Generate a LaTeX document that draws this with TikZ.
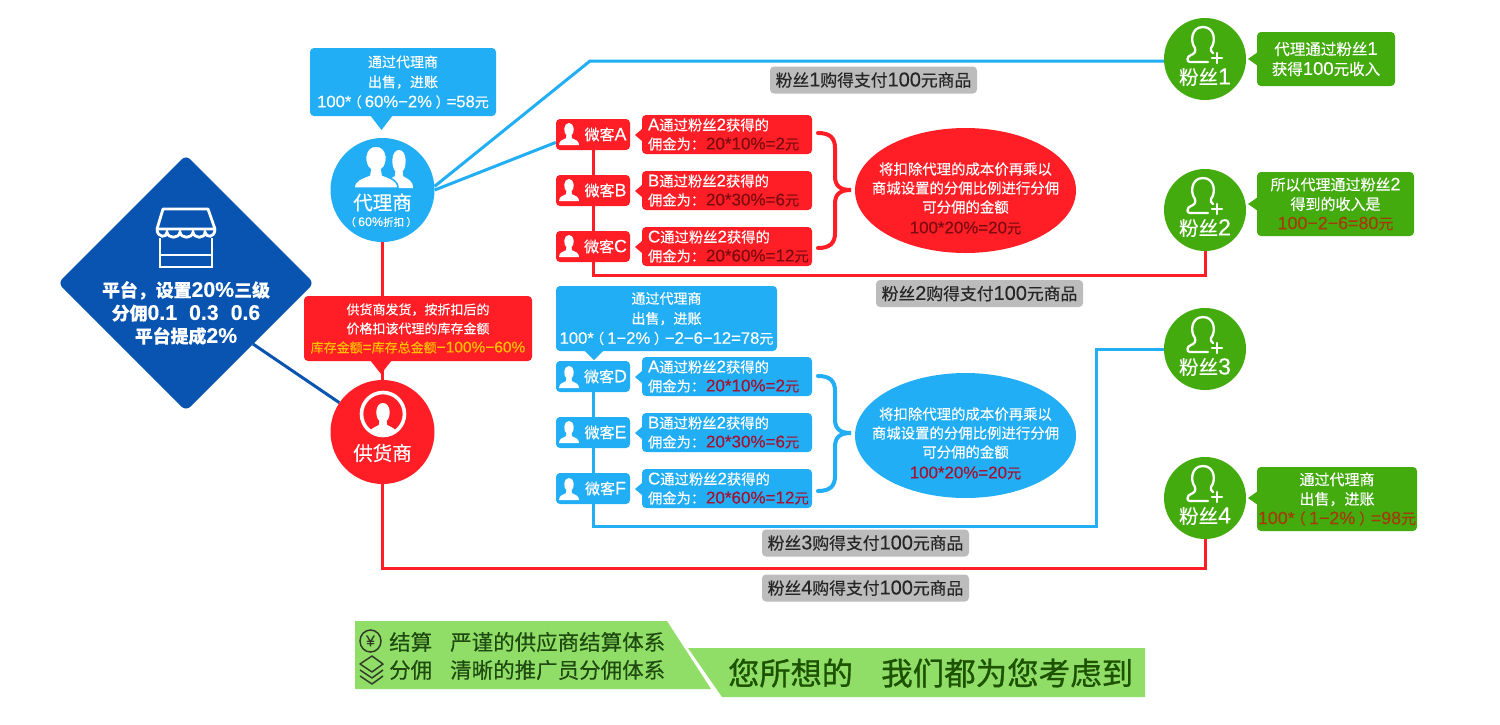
\documentclass[tikz,border=0pt]{standalone}
\usepackage{fontspec}
\setmainfont{Liberation Sans}[Scale=1.19,FakeBold=0.25]
\newfontfamily\cjkf{Noto Sans CJK SC}[FakeBold=0.25]
\newfontfamily\cjkheavy{Noto Sans CJK SC}[FakeBold=0.9]
\XeTeXinterchartokenstate=1
\newXeTeXintercharclass\cjkclass
\count255="4E00
\loop\ifnum\count255<"9FFF
  \XeTeXcharclass\count255=\cjkclass
  \advance\count255 by 1
\repeat
\XeTeXcharclass"FF08=\cjkclass
\XeTeXcharclass"FF09=\cjkclass
\XeTeXcharclass"FF0C=\cjkclass
\XeTeXcharclass"FF1A=\cjkclass
\XeTeXinterchartoks 0 \cjkclass = {\cjkf}
\XeTeXinterchartoks 4095 \cjkclass = {\cjkf}
\XeTeXinterchartoks \cjkclass 0 = {\rmfamily}
\XeTeXinterchartoks 4095 0 = {\rmfamily}
\usetikzlibrary{shapes.geometric}
\pgfdeclarelayer{bg}
\pgfsetlayers{bg,main}
\definecolor{cred}{HTML}{FF1E26}
\definecolor{cblue}{HTML}{22AEF5}
\definecolor{cgreen}{HTML}{43AB0E}
\definecolor{cnavy}{HTML}{0854B0}
\definecolor{cgray}{HTML}{BDBCBD}
\definecolor{cband}{HTML}{90DE68}
\definecolor{dkred}{HTML}{7A0B10}
\definecolor{dkblue}{HTML}{A31230}
\definecolor{dkgreen}{HTML}{A53A0A}
\definecolor{cyel}{HTML}{FFC000}
\definecolor{cbandtxt}{HTML}{1F4A10}
\definecolor{cbandtxtb}{HTML}{1C5200}
\newcommand{\fs}[2]{\fontsize{#1}{#2}\selectfont}
\newcommand{\hv}{\XeTeXinterchartokenstate=0\relax\cjkheavy}
\newcommand{\lp}{\hspace{-.22em}（\hspace{.22em}}
\newcommand{\rp}{\hspace{.22em}）\hspace{-.22em}}
\newcommand{\comm}[3]{#1通过粉丝2获得的\\\makebox[58pt][l]{佣金为：}\textcolor{#3}{#2}}
\tikzset{
  x=1pt,y=-1pt,inner sep=0pt,
  rbox/.style={rounded corners=4pt,text=white,align=center,font=\fs{14}{20}},
  bub/.style={rbox,fill=#1,minimum width=0pt},
  wk/.style={rbox,fill=#1,minimum width=74pt,minimum height=31pt,font=\fs{15}{18}},
  commbox/.style={rbox,fill=#1,minimum width=170pt,minimum height=39pt,text width=158pt,align=left,font=\fs{14.3}{19}},
  oval/.style={ellipse,fill=#1,minimum width=221pt,minimum height=125pt,text=white,align=center},
  disc/.style={circle,fill=#1,minimum size=104pt},
  fanc/.style={circle,fill=cgreen,minimum size=82pt},
  tag/.style={rounded corners=4pt,fill=cgray,text=black!85,minimum width=207pt,minimum height=27pt,font=\fs{16.8}{20}},
  ltxt/.style={text=white,font=\fs{19.5}{22}},
  fline/.style={line width=3pt,draw=#1,line join=miter},
  tip/.style={fill=#1},
  bracecurve/.style={line width=4pt,draw=#1,line cap=round},
  bandt/.style={text=cbandtxt,font=\fs{21.5}{24},anchor=west},
  iconline/.style={draw=white,line width=2.3pt,line join=round,line cap=round},
}
\newcommand{\sil}[6][none]{\begin{scope}[shift={(#2,#3)},xscale=#4,yscale=#5]
 \path[fill=#6,draw=#1,line width=1.5pt] (-1,1) .. controls (-1,0.6) and (-0.6,0.52) .. (-0.3,0.38) -- (-0.26,0.12)
  .. controls (-0.58,-0.1) and (-0.58,-1) .. (0,-1) .. controls (0.58,-1) and (0.58,-0.1) .. (0.26,0.12)
  -- (0.3,0.38) .. controls (0.6,0.52) and (1,0.6) .. (1,1) -- cycle;
\end{scope}}
\newcommand{\fanicon}[2]{\begin{scope}[shift={(#1,#2)}]
 \draw[iconline] (3,3) -- (-15,3) .. controls (-19,3) and (-18,-3) .. (-14,-4) .. controls (-11,-5) and (-9,-7) .. (-10,-11)
  .. controls (-15,-17) and (-14,-32) .. (-2,-32) .. controls (10,-32) and (11,-17) .. (6,-11) .. controls (5.5,-9) and (6,-7) .. (8,-6);
 \draw[iconline] (7,-1) -- (17,-1) (12,-6) -- (12,4);
\end{scope}}
\newcommand{\bracepath}[2]{\draw[bracecurve=#2] (818,#1-57) .. controls (830,#1-57) and (835,#1-52) .. (835,#1-42) -- (835,#1-14)
  .. controls (835,#1-4) and (840,#1) .. (851,#1) .. controls (840,#1) and (835,#1+4) .. (835,#1+14) -- (835,#1+43)
  .. controls (835,#1+53) and (830,#1+58) .. (818,#1+58);}
\newcommand{\ptr}[2]{\fill[tip=#2] (635,#1) -- (642,#1-6) -- (642,#1+6) -- cycle;}
\begin{document}
\begin{tikzpicture}
\useasboundingbox (0,0) rectangle (1500,724);
\begin{pgfonlayer}{bg}
\fill[white] (0,0) rectangle (1500,724);
\end{pgfonlayer}

% platform diamond
\fill[cnavy,rounded corners=6pt] (186,155) -- (314,283) -- (186,411) -- (58,283) -- cycle;
\coordinate (plat) at (253,344);
\draw[white,line width=2.8pt,line join=round] (163,209) -- (208,209) -- (215,229) -- (157,229) -- cycle;
\draw[white,line width=2.8pt] (157,230) .. controls (158,238) and (167,238) .. (167,232) .. controls (168,239) and (179,239) .. (180,232)
   .. controls (181,239) and (192,239) .. (193,232) .. controls (194,239) and (205,239) .. (205,232) .. controls (206,238) and (214,238) .. (215,230);
\draw[white,line width=2.8pt] (160,238) -- (160,267) -- (212,267) -- (212,238) (160,255) -- (212,255);
\node[text=white,align=center,font=\bfseries\fs{17.9}{23}] (plattxt) at (186,313) {平台，设置20\%三级\\分佣0.1\hspace{12pt}0.3\hspace{12pt}0.6\\平台提成2\%};

% agent
\node[disc=cblue] (agent) at (382.5,190) {};
\sil{399}{169}{14}{19}{white}
\sil[cblue]{376}{167}{22}{21}{white}
\node[ltxt] (agentt) at (382.5,202.5) {代理商};
\node[text=white,font=\fs{10.5}{12}] (agents) at (382.5,222) {\lp 60\%折扣\rp};
\node[bub=cblue,minimum width=186pt,minimum height=68pt] (agentb) at (403,82) {通过代理商\\出售，进账\\100*\lp 60\%−2\%\rp=58元};
\fill[tip=cblue] (370,115) -- (393,115) -- (381.5,130) -- cycle;

% supplier
\node[disc=cred] (supplier) at (382.5,432) {};
\draw[white,line width=3.6pt] (383,414) circle (21.5);
\begin{scope}
 \clip (383,414) circle (20);
 \sil{383}{419}{14}{16}{white}
\end{scope}
\node[ltxt] (suppliert) at (382.5,453) {供货商};
\node[bub=cred,minimum width=228pt,minimum height=65pt,font=\fs{13}{19}] (supplierb) at (418,328.5) {供货商发货，按折扣后的\\价格扣该代理的库存金额\\\textcolor{cyel}{库存金额=库存总金额−100\%−60\%}};
\fill[tip=cred] (370,360) -- (392,360) -- (381,374) -- cycle;

% red group
\foreach \n/\t/\y in {wa/微客A/134.5,wb/微客B/190.5,wc/微客C/246.5}{
 \node[wk=cred] (\n) at (593,\y) {\hspace*{25pt}\t};
}
\sil{569}{134}{10}{11}{white}\sil{569}{190}{10}{11}{white}\sil{569}{246}{10}{11}{white}
\node[commbox=cred] (ca) at (727,134.5) {\comm{A}{20*10\%=2元}{dkred}};
\node[commbox=cred] (cb) at (727,190.5) {\comm{B}{20*30\%=6元}{dkred}};
\node[commbox=cred] (cc) at (727,246.5) {\comm{C}{20*60\%=12元}{dkred}};
\ptr{135}{cred}\ptr{191}{cred}\ptr{247}{cred}
\bracepath{190}{cred}
\node[oval=cred] (ored) at (965.5,190.5) {};
\node[text=white,align=center,font=\fs{14.4}{19}] (oredt) at (965.5,188) {将扣除代理的成本价再乘以\\商城设置的分佣比例进行分佣\\可分佣的金额};
\node[text=dkred,font=\fs{14.2}{19}] (oredv) at (965.5,228) {100*20\%=20元};

% blue group
\node[bub=cblue,minimum width=221pt,minimum height=65pt] (bbub) at (666.5,318.5) {通过代理商\\出售，进账\\100*\lp 1−2\%\rp−2−6−12=78元};
\fill[tip=cblue] (584,350) -- (604,350) -- (594,360) -- cycle;
\foreach \n/\t/\y in {wd/微客D/376.5,we/微客E/432.5,wf/微客F/488.5}{
 \node[wk=cblue] (\n) at (593,\y) {\hspace*{25pt}\t};
}
\sil{569}{377}{10}{11}{white}\sil{569}{432}{10}{11}{white}\sil{569}{489}{10}{11}{white}
\node[commbox=cblue] (cd) at (727,376.5) {\comm{A}{20*10\%=2元}{dkblue}};
\node[commbox=cblue] (ce) at (727,432.5) {\comm{B}{20*30\%=6元}{dkblue}};
\node[commbox=cblue] (cf) at (727,488.5) {\comm{C}{20*60\%=12元}{dkblue}};
\ptr{377}{cblue}\ptr{433}{cblue}\ptr{489}{cblue}
\bracepath{433}{cblue}
\node[oval=cblue] (oblue) at (965.5,435.5) {};
\node[text=white,align=center,font=\fs{14.4}{19}] (obluet) at (965.5,433) {将扣除代理的成本价再乘以\\商城设置的分佣比例进行分佣\\可分佣的金额};
\node[text=dkblue,font=\fs{14.2}{19}] (obluev) at (965.5,473) {100*20\%=20元};

% fans
\foreach \n/\l/\y in {f1/粉丝1/59,f2/粉丝2/210,f3/粉丝3/349,f4/粉丝4/498}{
 \node[fanc] (\n) at (1205,\y) {};
 \fanicon{1205}{\y}
 \node[ltxt] (\n t) at (1205,\y+18) {\l};
}
\node[bub=cgreen,minimum width=138pt,minimum height=54pt,font=\fs{15.5}{20}] (f1b) at (1326,59) {代理通过粉丝1\\获得100元收入};
\fill[tip=cgreen] (1248,59) -- (1258,52) -- (1258,66) -- cycle;
\node[bub=cgreen,minimum width=157pt,minimum height=64pt,font=\fs{15}{19.5}] (f2b) at (1335.5,204) {所以代理通过粉丝2\\得到的收入是\\\textcolor{dkgreen}{100−2−6=80元}};
\fill[tip=cgreen] (1248,204) -- (1258,197) -- (1258,211) -- cycle;
\node[bub=cgreen,minimum width=160pt,minimum height=64pt,font=\fs{15}{19.5}] (f4b) at (1337,499) {通过代理商\\出售，进账\\\textcolor{dkgreen}{100*\lp 1−2\%\rp=98元}};
\fill[tip=cgreen] (1248,498) -- (1258,491) -- (1258,505) -- cycle;

% tags
\node[tag] (t1) at (873.5,80) {粉丝1购得支付100元商品};
\node[tag] (t2) at (979.5,293.5) {粉丝2购得支付100元商品};
\node[tag] (t3) at (865.5,543) {粉丝3购得支付100元商品};
\node[tag] (t4) at (865.5,588) {粉丝4购得支付100元商品};

% connectors
\coordinate (b1) at (590,61);
\coordinate (r2) at (593,275);
\coordinate (b3a) at (593,526);
\coordinate (b3b) at (1096,526);
\coordinate (b3c) at (1096,349);
\coordinate (r4) at (382,568);
\coordinate (sup top) at (382,432);
\coordinate (ag bot) at (382,190);
\begin{pgfonlayer}{bg}
 \draw[line width=3pt,draw=cnavy] (plat) -- (supplier);
 \draw[fline=cblue] (agent.4) -- (b1) -- (b1 -| f1.west);
 \draw[fline=cblue] (agent.0) -- (wa.192);
 \draw[fline=cred] (ag bot) -- (sup top);
 \draw[fline=cred] (wa) -- (wb);
 \draw[fline=cred] (wb) -- (wc);
 \draw[fline=cred] (wc) -- (r2) -- (r2 -| f2) -- (f2);
 \draw[fline=cblue] (wd) -- (we);
 \draw[fline=cblue] (we) -- (wf);
 \draw[fline=cblue] (wf) -- (b3a) -- (b3b) -- (b3c) -- (f3);
 \draw[fline=cred] (sup top) -- (r4) -- (r4 -| f4) -- (f4);
\end{pgfonlayer}

% bottom band
\fill[cband] (355,621) -- (667,621) -- (711,689) -- (355,689) -- cycle;
\fill[cband] (688,648) -- (1145,648) -- (1145,697) -- (722,697) -- cycle;
\draw[cbandtxt!80!violet,line width=1.5pt] (370.5,641) ellipse (10.5 and 11);
\node[text=cbandtxt!80!violet,font=\fs{13}{16}] (yen) at (370.5,641) {¥};
\draw[cbandtxt!80!violet,line width=1.5pt,line join=round] (360,664) -- (372,656) -- (383,664) -- (372,672) -- cycle
  (360,670) -- (372,678) -- (383,670) (360,676) -- (372,684) -- (383,676);
\node[bandt] (l1a) at (389,642) {结算};
\node[bandt] (l1b) at (450,642) {严谨的供应商结算体系};
\node[bandt] (l2a) at (389,670) {分佣};
\node[bandt] (l2b) at (450,670) {清晰的推广员分佣体系};
\node[text=cbandtxtb,font=\hv\fs{31.2}{34},anchor=west] (r1) at (728,673) {您所想的};
\node[text=cbandtxtb,font=\hv\fs{31.5}{34},anchor=west] (r2t) at (881,673) {我们都为您考虑到};
\end{tikzpicture}
\end{document}
